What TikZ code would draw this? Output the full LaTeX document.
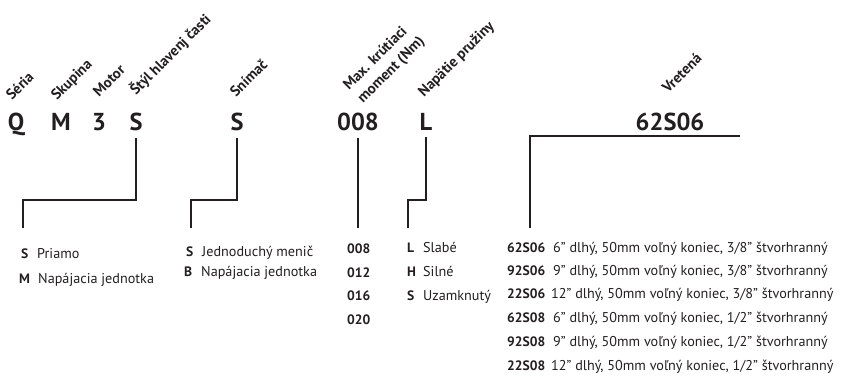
\documentclass[tikz,border=0pt]{standalone}
\usepackage{fontspec}
\setmainfont{PT Sans}
\definecolor{ink}{HTML}{231F20}
\tikzset{
  big/.style={font=\bfseries\fontsize{24.5}{25}\selectfont, text=ink, inner sep=0pt, anchor=base},
  lab/.style={font=\bfseries\fontsize{14.8}{15}\selectfont, text=ink, inner sep=0pt, anchor=base west, rotate=45},
  code/.style={font=\bfseries\fontsize{13.6}{15}\selectfont, text=ink, inner sep=0pt, anchor=base west},
  desc/.style={font=\fontsize{14.2}{15}\selectfont, text=ink, inner sep=0pt, anchor=base west},
  conn/.style={draw=ink, line width=1.8pt}
}
\begin{document}
\begin{tikzpicture}[x=1pt,y=-1pt]
\useasboundingbox (0,0) rectangle (853,375);
% big code letters
\node[big] (q) at (16,130) {Q};
\node[big] (m) at (61,130) {M};
\node[big] (three) at (99,130) {3};
\node[big] (sA) at (136,130) {S};
\node[big] (sB) at (237,130) {S};
\node[big] (torque) at (358,130) {008};
\node[big] (ell) at (426,130) {L};
\node[big] (spin) at (670,130) {62S06};
% rotated labels
\node[lab] (lq) at (12,101) {Séria};
\node[lab] (lm) at (57,101) {Skupina};
\node[lab] (l3) at (99,98) {Motor};
\node[lab] (lsa) at (136,96) {Štýl hlavenj časti};
\node[lab] (lsb) at (236,98) {Snímač};
\node[lab] (lt1) at (349,91) {Max. krútiaci};
\node[lab] (lt2) at (363,104) {moment (Nm)};
\node[lab] (ll) at (424,98) {Napätie pružiny};
\node[lab] (lv) at (668,94) {Vretená};
% connector ends
\coordinate (eA) at (23,228);
\coordinate (eB) at (191,228);
\coordinate (eT) at (358,228);
\coordinate (eL) at (408,228);
\coordinate (vR) at (740,136);
\coordinate (eV) at (530,228);
\draw[conn] (sA.south) ++(0,7) -- (136,200) -| (eA);
\draw[conn] (sB.south) ++(0,7) -- (237,200) -| (eB);
\draw[conn] (torque.south) ++(0,7) -- (eT);
\draw[conn] (ell.south) ++(0,7) -- (426,200) -| (eL);
\draw[conn] (vR) -| (eV);
% list: style
\node[code] (a1) at (21,258) {S};
\node[desc] (a1t) at (37,258) {Priamo};
\node[code] (a2) at (19,283) {M};
\node[desc] (a2t) at (38,283) {Napájacia jednotka};
% list: sensor
\node[code] (b1) at (186,256) {S};
\node[desc] (b1t) at (202,256) {Jednoduchý menič};
\node[code] (b2) at (184,276) {B};
\node[desc] (b2t) at (201,276) {Napájacia jednotka};
% list: torque
\node[code] (t1) at (347,253) {008};
\node[code] (t2) at (347,277) {012};
\node[code] (t3) at (347,300) {016};
\node[code] (t4) at (347,324) {020};
% list: spring
\node[code] (s1) at (407,252) {L};
\node[desc] (s1t) at (423,252) {Slabé};
\node[code] (s2) at (407,276) {H};
\node[desc] (s2t) at (423,276) {Silné};
\node[code] (s3) at (407,300) {S};
\node[desc] (s3t) at (423,300) {Uzamknutý};
% list: spindles
\node[code] (v1) at (507,252) {62S06};
\node[desc] (v1t) at (553,252) {6" dlhý, 50mm voľný koniec, 3/8" štvorhranný};
\node[code] (v2) at (507,275) {92S06};
\node[desc] (v2t) at (553,275) {9" dlhý, 50mm voľný koniec, 3/8" štvorhranný};
\node[code] (v3) at (507,298) {22S06};
\node[desc] (v3t) at (551,298) {12" dlhý, 50mm voľný koniec, 3/8" štvorhranný};
\node[code] (v4) at (507,322) {62S08};
\node[desc] (v4t) at (553,322) {6" dlhý, 50mm voľný koniec, 1/2" štvorhranný};
\node[code] (v5) at (507,346) {92S08};
\node[desc] (v5t) at (553,346) {9" dlhý, 50mm voľný koniec, 1/2" štvorhranný};
\node[code] (v6) at (507,370) {22S08};
\node[desc] (v6t) at (551,370) {12" dlhý, 50mm voľný koniec, 1/2" štvorhranný};
\end{tikzpicture}
\end{document}
